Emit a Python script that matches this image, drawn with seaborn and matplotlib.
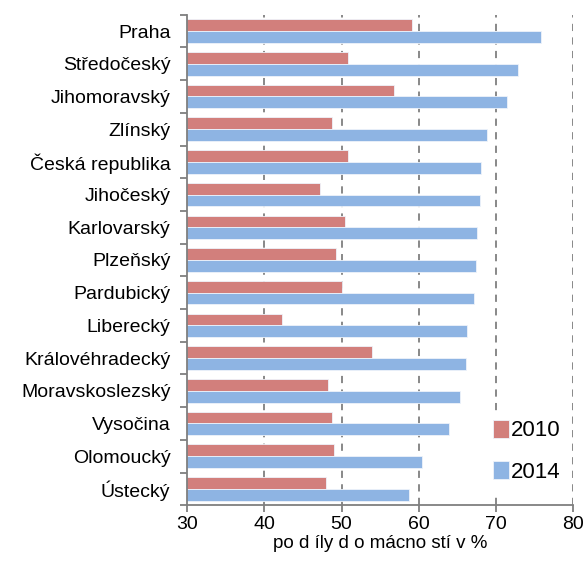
import pandas as pd
import seaborn as sns
import matplotlib.pyplot as plt
from matplotlib.ticker import FixedLocator

# Data
kraje = ["Praha", "Středočeský", "Jihomoravský", "Zlínský", "Česká republika",
         "Jihočeský", "Karlovarský", "Plzeňský", "Pardubický", "Liberecký",
         "Královéhradecký", "Moravskoslezský", "Vysočina", "Olomoucký", "Ústecký"]
podil_2010 = [59.1, 50.8, 56.8, 48.8, 50.8, 47.2, 50.5, 49.3, 50.1, 42.3,
              54.0, 48.2, 48.8, 49.0, 48.0]
podil_2014 = [75.8, 72.8, 71.5, 68.9, 68.1, 67.9, 67.6, 67.4, 67.1, 66.3,
              66.1, 65.3, 63.9, 60.4, 58.8]
roky = ["2010", "2014"]

df = pd.DataFrame({
    "kraj": kraje * 2,
    "podil": podil_2010 + podil_2014,
    "rok": [roky[0]] * len(kraje) + [roky[1]] * len(kraje),
})

sns.set_style("white")
plt.rcParams['font.family'] = ['Liberation Sans', 'DejaVu Sans']
plt.rcParams['text.color'] = 'black'
plt.rcParams['xtick.color'] = 'black'
plt.rcParams['ytick.color'] = 'black'
plt.rcParams['axes.labelcolor'] = 'black'

fig = plt.figure(figsize=(5.83, 5.67), dpi=100)
ax = fig.add_axes([0.321, 0.109, 0.662, 0.865])

sns.barplot(data=df, x="podil", y="kraj", hue="rok", orient="h",
            palette=["#D27F7C", "#8EB4E3"], saturation=1, width=0.72, ax=ax,
            edgecolor="#EEF3FA", linewidth=0.6)

ax.set_xlim(30, 80)
ax.set_ylim(len(kraje) - 0.5, -0.5)
ax.set_xticks([30, 40, 50, 60, 70, 80])

# svislá přerušovaná mřížka
for x in [40, 50, 60, 70, 80]:
    ax.axvline(x, color="#7F7F7F", linestyle=(0, (4, 3.5)), linewidth=1.3, zorder=0)

for side in ["top", "right"]:
    ax.spines[side].set_visible(False)
for side in ["left", "bottom"]:
    ax.spines[side].set_color("#7F7F7F")
    ax.spines[side].set_linewidth(1.3)

# značky mezi kategoriemi
ax.yaxis.set_minor_locator(FixedLocator([i - 0.5 for i in range(len(kraje) + 1)]))
ax.tick_params(axis="y", which="major", length=0, labelsize=14, pad=12)
ax.tick_params(axis="y", which="minor", length=5, width=1.3, color="#7F7F7F", left=True)
ax.tick_params(axis="x", which="major", length=5, width=1.3, color="#7F7F7F",
               bottom=True, labelsize=14, pad=3)

ax.set_ylabel("")
ax.set_xlabel("po d íly d o mácno stí v %", fontsize=13.5, labelpad=1)

leg = ax.legend(loc="lower right", bbox_to_anchor=(1.025, 0.0), frameon=True,
                fontsize=16, handlelength=0.7, handleheight=0.85, handletextpad=0.1,
                labelspacing=0.9, borderaxespad=0.6, fancybox=False)
leg.get_frame().set_edgecolor("white")
leg.get_frame().set_facecolor("white")
leg.get_frame().set_alpha(1)

plt.savefig("out.png", dpi=100)
plt.close()
